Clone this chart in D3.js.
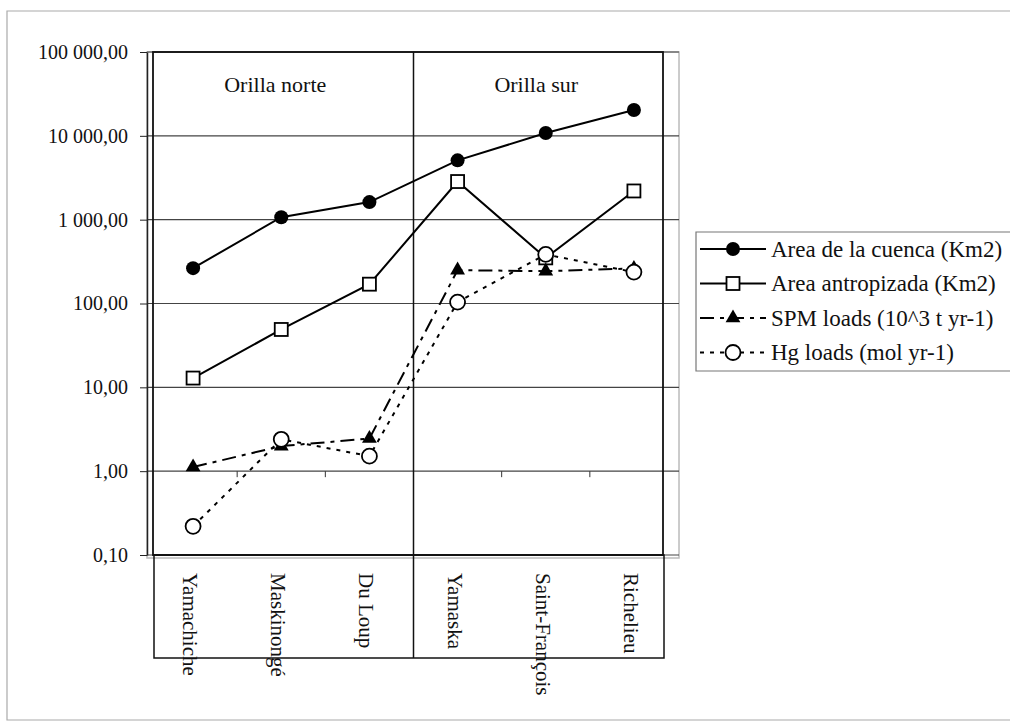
<!DOCTYPE html>
<html>
<head>
<meta charset="utf-8">
<script src="https://cdn.jsdelivr.net/npm/d3@7"></script>
<style>
  body { margin: 0; background: #fff; }
  svg { display: block; }
  svg text { font-family: 'Liberation Serif', 'Times New Roman', serif; }
</style>
</head>
<body>
<svg></svg>
<script>
// values (log scale)
const categories = ['Yamachiche', 'Maskinongé', 'Du Loup', 'Yamaska', 'Saint-François', 'Richelieu'];
const cuenca      = [264, 1070, 1620, 5100, 10800, 20300];
const antropizada = [12.9, 49, 170, 2850, 350, 2200];
const spmLoads    = [1.12, 1.99, 2.45, 250, 243, 262];
const hgLoads     = [0.22, 2.4, 1.51, 104, 385, 237];
const yTicks = [0.1, 1, 10, 100, 1000, 10000, 100000];
const shores = ['Orilla norte', 'Orilla sur'];
const seriesNames = ['Area de la cuenca (Km2)', 'Area antropizada (Km2)', 'SPM loads (10^3 t yr-1)', 'Hg loads (mol yr-1)'];

const width = 1010;
const height = 723;
const serif = 'Liberation Serif, Times New Roman, serif';

let svg = d3.select('svg')
    .attr('width', width)
    .attr('height', height);

// page frame (scan border)
svg.append('path')
    .attr('d', 'M1010,11 H7 V720 H1010')
    .attr('fill', 'none')
    .attr('stroke', '#aaa')
    .attr('stroke-width', 1.2);

//Scales
const plotTop = 52, plotBottom = 555;
let x = d3.scaleBand()
    .domain(categories)
    .range([149, 678]);
let cx = d => x(d) + x.bandwidth() / 2;

let y = d3.scaleLog()
    .domain([0.1, 100000])
    .range([plotBottom, plotTop]);

const locale = d3.formatLocale({decimal: ',', thousands: '\u00a0', grouping: [3], currency: ['', '']});
const fmt = locale.format(',.2f');

// grey plot-area border
svg.append('rect')
    .attr('x', 147).attr('y', plotTop)
    .attr('width', 679 - 147).attr('height', 558 - plotTop)
    .attr('fill', 'none')
    .attr('stroke', '#bbb')
    .attr('stroke-width', 1.5);

// gridlines
svg.append('g')
    .selectAll('line')
    .data(yTicks)
    .enter()
    .append('line')
        .attr('x1', 147).attr('x2', 679)
        .attr('y1', d => y(d)).attr('y2', d => y(d))
        .attr('stroke', '#444')
        .attr('stroke-width', 1.2);

// category axis crossing at 1
svg.append('g')
    .selectAll('line')
    .data(categories.slice(1))
    .enter()
    .append('line')
        .attr('x1', d => x(d)).attr('x2', d => x(d))
        .attr('y1', y(1)).attr('y2', y(1) + 6)
        .attr('stroke', '#333');

// y axis
let yAxis = d3.axisLeft(y)
    .tickValues(yTicks)
    .tickFormat(fmt)
    .tickSize(7)
    .tickSizeOuter(0)
    .tickPadding(12);

svg.append('g')
    .attr('transform', 'translate(147,0)')
    .call(yAxis)
    .attr('font-family', serif)
    .call(g => g.select('.domain').attr('stroke', '#222').attr('stroke-width', 1.5))
    .call(g => g.selectAll('.tick line').attr('stroke', '#222'))
    .call(g => g.selectAll('text')
        .attr('font-size', 20)
        .attr('fill', '#111'));

// overlay table: shore boxes and category box
const divX = x(categories[3]);
svg.append('rect')
    .attr('x', 153).attr('y', plotTop)
    .attr('width', 663 - 153).attr('height', plotBottom - plotTop)
    .attr('fill', 'none')
    .attr('stroke', '#111')
    .attr('stroke-width', 1.8);

svg.append('rect')
    .attr('x', 154).attr('y', plotBottom)
    .attr('width', 664 - 154).attr('height', 658 - plotBottom)
    .attr('fill', 'none')
    .attr('stroke', '#111')
    .attr('stroke-width', 1.5);

svg.append('line')
    .attr('x1', divX).attr('x2', divX)
    .attr('y1', plotTop).attr('y2', 658)
    .attr('stroke', '#111')
    .attr('stroke-width', 1.5);

svg.append('g')
    .selectAll('text')
    .data(shores)
    .enter()
    .append('text')
        .text(d => d)
        .attr('x', (d, i) => i === 0 ? (153 + divX) / 2 - 8 : (divX + 663) / 2 - 2)
        .attr('y', 92)
        .attr('text-anchor', 'middle')
        .attr('font-family', serif)
        .attr('font-size', 22)
        .attr('fill', '#111');

// category labels, rotated
svg.append('g')
    .selectAll('text')
    .data(categories)
    .enter()
    .append('text')
        .text(d => d)
        .attr('transform', d => `translate(${cx(d) - 3},573) rotate(90)`)
        .attr('dominant-baseline', 'central')
        .attr('font-family', serif)
        .attr('font-size', 21)
        .attr('fill', '#111');

// series
const series = [
    {name: seriesNames[0], values: cuenca,      dash: null,         marker: 'dot'},
    {name: seriesNames[1], values: antropizada, dash: null,         marker: 'square'},
    {name: seriesNames[2], values: spmLoads,    dash: '14,6,4,6',   marker: 'triangle'},
    {name: seriesNames[3], values: hgLoads,     dash: '4,6',        marker: 'circle'}
];

let line = d3.line()
    .x((d, i) => cx(categories[i]))
    .y(d => y(d));

function drawMarker(g, type) {
    if (type === 'dot') {
        g.append('circle').attr('r', 7).attr('fill', '#000');
    } else if (type === 'square') {
        g.append('rect').attr('x', -6.5).attr('y', -6.5).attr('width', 13).attr('height', 13)
            .attr('fill', '#fff').attr('stroke', '#000').attr('stroke-width', 1.8);
    } else if (type === 'triangle') {
        g.append('path').attr('d', d3.symbol().type(d3.symbolTriangle).size(95)())
            .attr('fill', '#000');
    } else {
        g.append('circle').attr('r', 7.5)
            .attr('fill', '#fff').attr('stroke', '#000').attr('stroke-width', 1.8);
    }
}

series.forEach(s => {
    svg.append('path')
        .datum(s.values)
        .attr('d', line)
        .attr('fill', 'none')
        .attr('stroke', '#000')
        .attr('stroke-width', 2)
        .attr('stroke-dasharray', s.dash);
});

series.forEach(s => {
    s.values.forEach((v, i) => {
        let g = svg.append('g')
            .attr('transform', `translate(${cx(categories[i])},${y(v)})`);
        drawMarker(g, s.marker);
    });
});

// legend
let legend = svg.append('g').attr('transform', 'translate(696,232)');
legend.append('path')
    .attr('d', 'M314,0 H0 V139 H314')
    .attr('fill', 'none')
    .attr('stroke', '#777')
    .attr('stroke-width', 1.2);

series.forEach((s, i) => {
    let row = legend.append('g').attr('transform', `translate(0,${17 + i * 34.5})`);
    row.append('line')
        .attr('x1', 4).attr('x2', 70)
        .attr('stroke', '#000')
        .attr('stroke-width', 2)
        .attr('stroke-dasharray', s.dash);
    let m = row.append('g').attr('transform', 'translate(37,0)');
    drawMarker(m, s.marker);
    row.append('text')
        .text(s.name)
        .attr('x', 75)
        .attr('dominant-baseline', 'central')
        .attr('font-family', serif)
        .attr('font-size', 23)
        .attr('fill', '#111');
});
</script>
</body>
</html>
